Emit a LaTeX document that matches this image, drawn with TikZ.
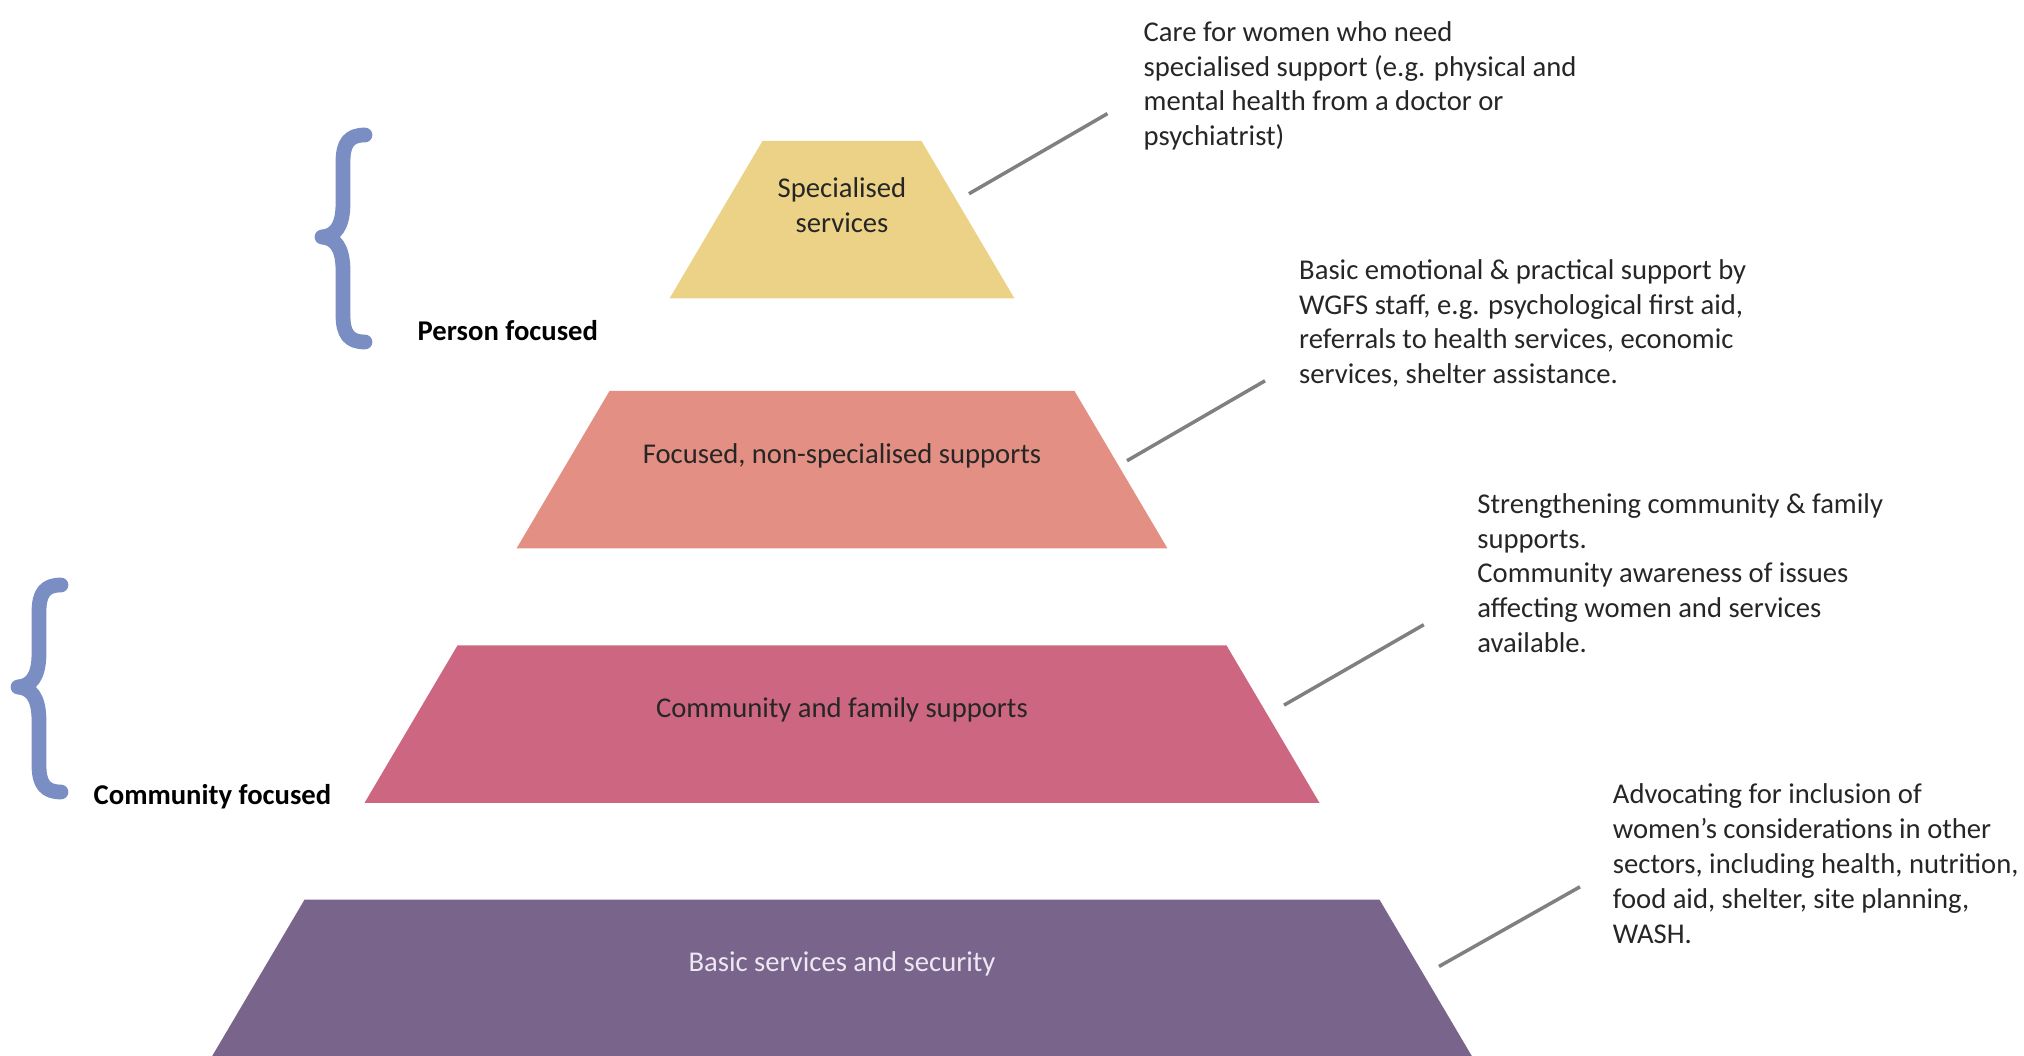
\documentclass[tikz,border=0pt]{standalone}
\usepackage{fontspec}
\setmainfont{Carlito}

\definecolor{tieryellow}{HTML}{EBD286}
\definecolor{tiersalmon}{HTML}{E38F83}
\definecolor{tierpink}{HTML}{CD6681}
\definecolor{tierpurple}{HTML}{79648C}
\definecolor{basictext}{HTML}{EEE8F2}
\definecolor{braceblue}{HTML}{7A8EC4}
\definecolor{leadergray}{HTML}{808080}

\tikzset{
	tierlabel/.style={align=center, font=\fontsize{8.15}{9.92}\selectfont, text=black!85, inner sep=0pt},
	note/.style={anchor=west, align=left, font=\fontsize{8.15}{9.92}\selectfont, text=black!85, inner sep=0pt},
	focus/.style={anchor=west, font=\fontsize{8.15}{9.92}\selectfont\bfseries, inner sep=0pt},
	leader/.style={draw=leadergray, line width=1pt},
	curly/.style={draw=braceblue, line width=4.2pt, line cap=round, line join=round}
}

\begin{document}
\begin{tikzpicture}[x=0.1mm,y=-0.1mm]
			\useasboundingbox (0,0) rectangle (2024,1056);
			\foreach \t/\w/\top/\c in {spec/345/141/tieryellow, focused/651/391/tiersalmon, comm/955/645.4/tierpink, basic/1261/899.7/tierpurple}{
				\fill[\c] (842-\w/2,\top+157.5) -- ++(\w,0) -- ++(-93,-157.5) -- ++(-\w+186,0) -- cycle;
				\coordinate (\t) at (842,\top+78.75);
				\coordinate (\t-right) at (842+\w/2-46.5,\top+78.75);
			}
			\node[tierlabel] (spec-label) at ([yshift=0.142cm]spec) {Specialised\\services};
			\node[tierlabel] (focused-label) at ([yshift=0.142cm]focused) {Focused, non-specialised supports};
			\node[tierlabel] (comm-label) at ([yshift=0.142cm]comm) {Community and family supports};
			\node[tierlabel, text=basictext] (basic-label) at ([yshift=0.142cm]basic) {Basic services and security};
			\node[note] (spec-note) at (1143,85.9) {Care for women who need\\specialised support (e.g. physical and\\mental health from a doctor or\\psychiatrist)};
			\node[note] (focused-note) at (1298.5,323.4) {Basic emotional \& practical support by\\WGFS staff, e.g. psychological first aid,\\referrals to health services, economic\\services, shelter assistance.};
			\node[note] (comm-note) at (1476.7,573.1) {Strengthening community \& family\\supports.\\Community awareness of issues\\affecting women and services\\available.};
			\node[note] (basic-note) at (1612.2,863.6) {Advocating for inclusion of\\women’s considerations in other\\sectors, including health, nutrition,\\food aid, shelter, site planning,\\WASH.};
			\foreach \t/\dx/\dy/\ex/\ey in {spec/1/-26/1107.5/113.6, focused/6/-9/1265/380.8, comm/11/-19/1423.8/624.7, basic/13/-12/1580/886.8}{
				\coordinate (\t-tip) at (\ex,\ey);
				\draw[leader] ([shift={(\dx,\dy)}]\t-right) -- (\t-tip);
			}
			\foreach \bx/\by in {343/135, 39/585}
				\draw[curly] (\bx+22,\by) .. controls (\bx+6,\by) and (\bx,\by+8) .. (\bx,\by+27) -- (\bx,\by+68) .. controls (\bx,\by+92) and (\bx-8,\by+101) .. (\bx-21,\by+102) .. controls (\bx-8,\by+103) and (\bx,\by+112) .. (\bx,\by+136) -- (\bx,\by+180) .. controls (\bx,\by+199) and (\bx+6,\by+207) .. (\bx+22,\by+207);
			\node[focus] (person) at (417,330.5) {Person focused};
			\node[focus] (community) at (93,796.5) {Community focused};
		\end{tikzpicture}
\end{document}
